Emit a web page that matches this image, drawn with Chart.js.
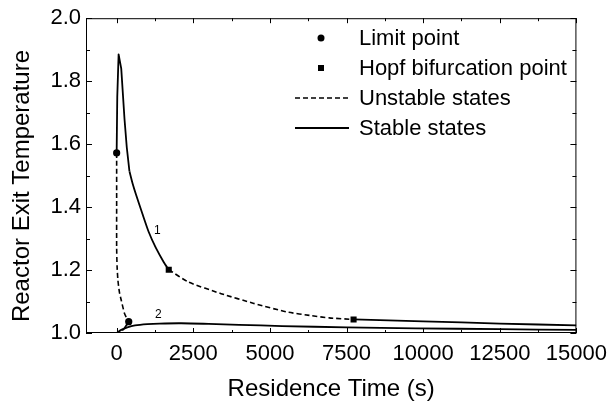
<!DOCTYPE html>
<html>
<head>
<meta charset="utf-8">
<script src="https://cdn.jsdelivr.net/npm/chart.js@4.4.1/dist/chart.umd.min.js"></script>
<style>
  html, body { margin: 0; padding: 0; background: #fff; }
  #wrap { width: 615px; height: 406px; }
</style>
</head>
<body>
<div id="wrap"><canvas id="chart"></canvas></div>
<script>
// curve 1: stable branch, sharp rise from the upper limit point to the peak
const c1PeakX = [0, 20, 64, 150, 256, 330, 417];
const c1PeakY = [1.572, 1.75, 1.885, 1.84, 1.68, 1.59, 1.514];
// curve 1: stable branch, decay down to the first Hopf point
const c1StableX = [417, 520, 631, 843, 1050, 1272, 1538, 1700];
const c1StableY = [1.514, 1.475, 1.44, 1.378, 1.32, 1.272, 1.225, 1.201];
// curve 1: unstable states between the two Hopf points
const c1UnstableX = [1700, 2340, 3408, 4477, 5545, 6368, 6933, 7730];
const c1UnstableY = [1.201, 1.162, 1.125, 1.094, 1.067, 1.055, 1.048, 1.043];
// curve 1: stable again after the second Hopf point
const c1TailX = [7730, 10000, 12500, 15000];
const c1TailY = [1.043, 1.037, 1.030, 1.024];
// unstable middle branch joining the two limit points
const midX = [0, 0, 0, 15, 42, 90, 150, 256, 330, 394];
const midY = [1.572, 1.40, 1.27, 1.21, 1.167, 1.13, 1.104, 1.062, 1.047, 1.036];
// short stable piece under the lower limit point
const shortX = [180, 260, 330, 394];
const shortY = [1.008, 1.016, 1.026, 1.036];
// curve 2: lower stable states
const c2X = [0, 150, 350, 600, 1000, 1400, 2100, 3000, 4000, 5400, 7500, 9750, 12500, 15000];
const c2Y = [1.0, 1.010, 1.018, 1.024, 1.028, 1.030, 1.031, 1.029, 1.026, 1.022, 1.018, 1.015, 1.012, 1.010];
// special points
const limitX = [0, 394];
const limitY = [1.572, 1.036];
const hopfX = [1700, 7730];
const hopfY = [1.201, 1.043];
// axis ticks
const xTicks = [0, 2500, 5000, 7500, 10000, 12500, 15000];
const yTicks = [1.0, 1.2, 1.4, 1.6, 1.8, 2.0];
// curve numbers
const curveLabels = ['1', '2'];
const curveLabelX = [1324, 1356];
const curveLabelY = [1.325, 1.057];
const legendLabels = ['Limit point', 'Hopf bifurcation point', 'Unstable states', 'Stable states'];
const yTitle = 'Reactor Exit Temperature';

const FONT = '"Liberation Sans", Arial, Helvetica, sans-serif';
const zip = (xs, ys) => xs.map((x, i) => ({ x: x, y: ys[i] }));

const solid = (data, tension) => ({
  data: data, borderColor: '#000', borderWidth: 1.8, pointRadius: 0,
  borderJoinStyle: 'round',
  tension: tension === undefined ? 0.2 : tension, fill: false
});
const dashed = (data) => Object.assign(solid(data), { borderDash: [5, 3], borderWidth: 1.6 });

// inward ticks on all four sides, frame, curve numbers, legend, y title
const frameTicks = {
  id: 'frameTicks',
  afterDatasetsDraw(chart) {
    const { ctx, chartArea: a, scales: { x, y } } = chart;
    ctx.save();
    ctx.strokeStyle = '#000';
    ctx.lineWidth = 1;
    ctx.strokeRect(a.left + 0.5, a.top + 0.5, a.right - a.left - 1, a.bottom - a.top - 1);
    ctx.beginPath();
    for (let v = 0; v <= 15000; v += 1250) {
      const px = Math.round(x.getPixelForValue(v)) + 0.5;
      const len = v % 2500 === 0 ? 5 : 3;
      ctx.moveTo(px, a.bottom); ctx.lineTo(px, a.bottom - len);
      ctx.moveTo(px, a.top); ctx.lineTo(px, a.top + len);
    }
    for (let i = 0; i <= 10; i++) {
      const v = 1 + i / 10;
      const py = Math.round(y.getPixelForValue(v)) + 0.5;
      const len = i % 2 === 0 ? 6 : 4;
      ctx.moveTo(a.left, py); ctx.lineTo(a.left + len, py);
      ctx.moveTo(a.right, py); ctx.lineTo(a.right - len, py);
    }
    ctx.stroke();

    // curve numbers
    ctx.fillStyle = '#000';
    ctx.font = '12px ' + FONT;
    ctx.textAlign = 'center';
    ctx.textBaseline = 'middle';
    curveLabels.forEach((t, i) => {
      ctx.fillText(t, x.getPixelForValue(curveLabelX[i]), y.getPixelForValue(curveLabelY[i]));
    });

    // legend
    const rows = [38, 68, 98, 128];
    ctx.font = '22px ' + FONT;
    ctx.textAlign = 'left';
    ctx.textBaseline = 'middle';
    legendLabels.forEach((t, i) => ctx.fillText(t, 359, rows[i] + 1));
    ctx.beginPath();
    ctx.arc(321, rows[0], 3.5, 0, Math.PI * 2);
    ctx.fill();
    ctx.fillRect(318, rows[1] - 3, 6, 6);
    ctx.lineWidth = 1.6;
    ctx.setLineDash([5, 3]);
    ctx.beginPath(); ctx.moveTo(295, rows[2]); ctx.lineTo(349, rows[2]); ctx.stroke();
    ctx.setLineDash([]);
    ctx.lineWidth = 1.8;
    ctx.beginPath(); ctx.moveTo(295, rows[3]); ctx.lineTo(349, rows[3]); ctx.stroke();

    // y axis title, sits a little below the middle of the axis
    ctx.translate(28.5, 186);
    ctx.rotate(-Math.PI / 2);
    ctx.font = '24px ' + FONT;
    ctx.textAlign = 'center';
    ctx.textBaseline = 'alphabetic';
    ctx.fillText(yTitle, 0, 0);
    ctx.restore();
  }
};

const ctx = document.getElementById('chart').getContext('2d');
new Chart(ctx, {
  type: 'line',
  data: {
    datasets: [
      solid(zip(c1PeakX, c1PeakY), 0),
      solid(zip(c1StableX, c1StableY)),
      dashed(zip(c1UnstableX, c1UnstableY)),
      solid(zip(c1TailX, c1TailY)),
      dashed(zip(midX, midY)),
      solid(zip(shortX, shortY)),
      solid(zip(c2X, c2Y)),
      { data: zip(limitX, limitY), showLine: false, pointStyle: 'circle', pointRadius: 3.6,
        backgroundColor: '#000', borderColor: '#000', borderWidth: 0 },
      { data: zip(hopfX, hopfY), showLine: false, pointStyle: 'rect', pointRadius: 4.3,
        backgroundColor: '#000', borderColor: '#000', borderWidth: 0 }
    ]
  },
  options: {
    responsive: true,
    maintainAspectRatio: false,
    animation: false,
    layout: { padding: { left: 0, right: 30, top: 16, bottom: 0 } },
    plugins: { legend: { display: false }, tooltip: { enabled: false } },
    scales: {
      x: {
        type: 'linear',
        min: -1000, max: 15000,
        afterBuildTicks: (s) => { s.ticks = xTicks.map(v => ({ value: v })); },
        afterFit: (s) => { s.height = 73; },
        grid: { display: false, drawTicks: false },
        border: { display: false },
        ticks: { color: '#000', padding: 8, maxRotation: 0, autoSkip: false,
                 font: { family: FONT, size: 22 }, callback: (v) => String(v) },
        title: { display: true, text: 'Residence Time (s)', color: '#000',
                 font: { family: FONT, size: 24 }, padding: { top: 2, bottom: 2 } }
      },
      y: {
        min: 1.0, max: 2.0,
        afterBuildTicks: (s) => { s.ticks = yTicks.map(v => ({ value: v })); },
        afterFit: (s) => { s.width = 86; },
        grid: { display: false, drawTicks: false },
        border: { display: false },
        ticks: { color: '#000', padding: 5, font: { family: FONT, size: 22 },
                 callback: (v) => v.toFixed(1) },
        title: { display: false }
      }
    }
  },
  plugins: [frameTicks]
});
</script>
</body>
</html>
